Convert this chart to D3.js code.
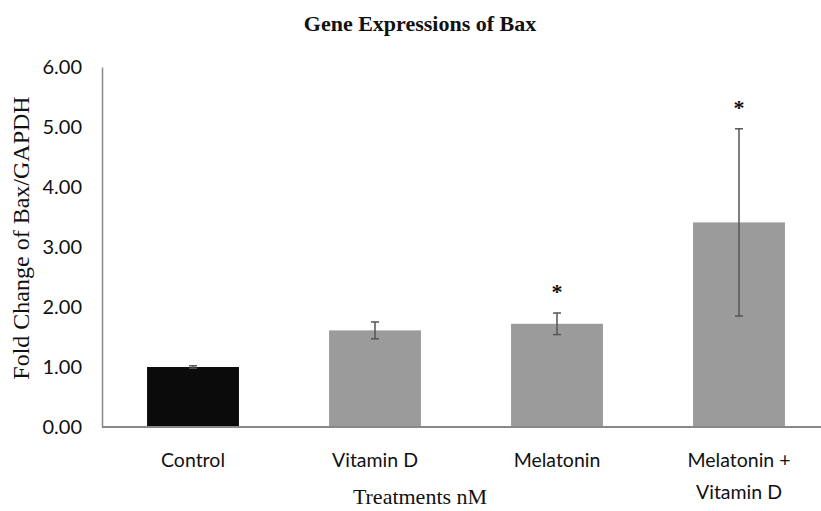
<!DOCTYPE html>
<html>
<head>
<meta charset="utf-8">
<script src="https://cdn.jsdelivr.net/npm/d3@7"></script>
<style>
  body { margin: 0; background: #fff; }
  svg text { fill: #111; }
</style>
</head>
<body>
<svg id="body" width="821" height="511"></svg>
<script>
// values
let categories = ["Control", "Vitamin D", "Melatonin", "Melatonin +\nVitamin D"]
let foldChange = [1.00, 1.61, 1.72, 3.41]
let stdError = [0.02, 0.14, 0.18, 1.56]
let significant = [false, false, true, true]
let yTicks = [0, 1, 2, 3, 4, 5, 6]

let data = categories.map((c, i) => ({
	name: c,
	value: foldChange[i],
	err: stdError[i],
	star: significant[i]
}))

let svg = d3.select("#body")

//Set dimensions
let plotLeft = 102, plotRight = 830, plotTop = 67, plotBottom = 427

let xscale = d3.scaleBand()
	.domain(categories)
	.range([plotLeft, plotRight])
	.paddingInner(0.495)
	.paddingOuter(0.2475)

let yscale = d3.scaleLinear()
	.domain([0, 6])
	.range([plotBottom, plotTop])

//title
svg.append("text")
	.attr("x", 420)
	.attr("y", 31)
	.attr("text-anchor", "middle")
	.style("font-family", "'Liberation Serif', serif")
	.style("font-weight", "bold")
	.style("font-size", "22px")
	.text("Gene Expressions of Bax")

//bars
svg.append("g").selectAll("rect")
	.data(data)
	.enter()
	.append("rect")
	.attr("x", d => xscale(d.name))
	.attr("width", xscale.bandwidth())
	.attr("y", d => yscale(d.value))
	.attr("height", d => yscale(0) - yscale(d.value))
	.attr("fill", (d, i) => i === 0 ? "#0b0b0b" : "#9b9b9b")

//error bars
let errs = svg.append("g")
	.attr("stroke", "#555")
	.attr("stroke-width", 1.5)
	.selectAll("g")
	.data(data)
	.enter()
	.append("g")
	.attr("transform", d => "translate(" + (xscale(d.name) + xscale.bandwidth() / 2) + ",0)")

errs.append("line")
	.attr("y1", d => yscale(d.value - d.err))
	.attr("y2", d => yscale(d.value + d.err))
errs.append("line")
	.attr("x1", -4).attr("x2", 4)
	.attr("y1", d => yscale(d.value + d.err))
	.attr("y2", d => yscale(d.value + d.err))
errs.append("line")
	.attr("x1", -4).attr("x2", 4)
	.attr("y1", d => yscale(d.value - d.err))
	.attr("y2", d => yscale(d.value - d.err))

//stars
svg.append("g").selectAll("text")
	.data(data.filter(d => d.star))
	.enter()
	.append("text")
	.attr("x", d => xscale(d.name) + xscale.bandwidth() / 2)
	.attr("y", d => yscale(d.value + d.err) - 14)
	.attr("text-anchor", "middle")
	.style("font-family", "'Liberation Serif', serif")
	.style("font-weight", "bold")
	.style("font-size", "22px")
	.text("*")

//y axis
let yaxis = svg.append("g")
	.attr("transform", "translate(" + plotLeft + ",0)")
	.call(d3.axisLeft(yscale).tickValues(yTicks).tickFormat(d3.format(".2f")).tickSize(0).tickPadding(20))
yaxis.select(".domain").attr("stroke", "#888").attr("stroke-width", 1.5)
yaxis.selectAll("text")
	.style("font-family", "Lato, sans-serif")
	.style("font-size", "20px")
	.attr("fill", "#111")

//x axis
svg.append("line")
	.attr("x1", plotLeft).attr("x2", 821)
	.attr("y1", plotBottom).attr("y2", plotBottom)
	.attr("stroke", "#888")
	.attr("stroke-width", 2)

//category labels
svg.append("g").selectAll("text")
	.data(data)
	.enter()
	.append("text")
	.attr("x", d => xscale(d.name) + xscale.bandwidth() / 2)
	.attr("y", 467)
	.attr("text-anchor", "middle")
	.style("font-family", "Lato, sans-serif")
	.style("font-size", "19.5px")
	.each(function(d) {
		let lines = d.name.split("\n")
		d3.select(this).selectAll("tspan")
			.data(lines)
			.enter()
			.append("tspan")
			.attr("x", xscale(d.name) + xscale.bandwidth() / 2)
			.attr("dy", (l, i) => i === 0 ? 0 : 32)
			.text(l => l)
	})

//axis titles
svg.append("text")
	.attr("x", 420)
	.attr("y", 504)
	.attr("text-anchor", "middle")
	.style("font-family", "'Liberation Serif', serif")
	.style("font-size", "22px")
	.text("Treatments nM")

svg.append("text")
	.attr("transform", "translate(29, 238) rotate(-90)")
	.attr("text-anchor", "middle")
	.style("font-family", "'Liberation Serif', serif")
	.style("font-size", "24px")
	.text("Fold Change of Bax/GAPDH")
</script>
</body>
</html>
